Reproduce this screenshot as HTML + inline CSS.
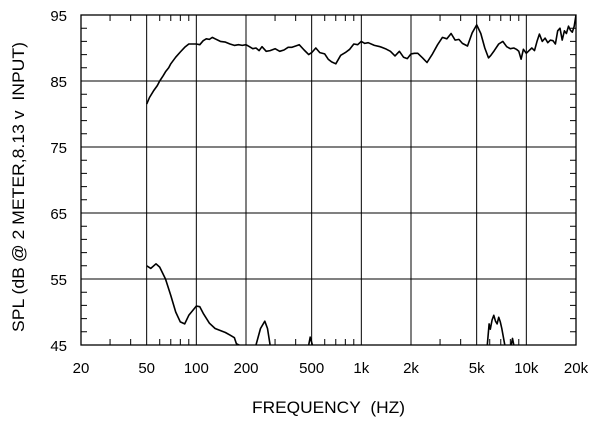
<!DOCTYPE html>
<html><head><meta charset="utf-8"><style>
body{margin:0;background:#fff}
svg text{font-family:"Liberation Sans",Arial,sans-serif;fill:#000}
</style></head><body>
<svg id="c" width="600" height="420"></svg>
<script>
const xTickVals=[20,50,100,200,500,1000,2000,5000,10000,20000];
const xTickLabels=["20","50","100","200","500","1k","2k","5k","10k","20k"];
const yTickVals=[45,55,65,75,85,95];
const spFreq=[50,52,55,58,60,63,65,68,70,75,80,85,90,95,100,105,110,115,120,125,130,140,150,160,170,180,190,200,210,220,230,240,250,265,280,300,320,340,360,380,400,420,450,480,500,530,560,600,630,660,700,750,800,850,900,950,1000,1050,1100,1200,1300,1400,1500,1600,1700,1800,1900,2000,2100,2200,2350,2500,2700,2900,3100,3300,3500,3700,3900,4100,4400,4700,5000,5300,5600,5900,6100,6400,6800,7200,7600,8000,8400,8700,9000,9300,9600,10000,10400,10800,11200,11600,12000,12500,13000,13500,14000,14500,15000,15500,16000,16500,17000,17500,18000,18500,19000,19500,20000];
const spDb=[81.5,82.5,83.5,84.3,85,85.8,86.4,87,87.6,88.6,89.4,90.1,90.6,90.6,90.6,90.5,91.1,91.4,91.3,91.6,91.4,91,90.9,90.6,90.4,90.5,90.4,90.5,90.2,89.9,90,89.6,90.2,89.5,89.6,89.9,89.5,89.7,90.1,90.1,90.3,90.5,89.7,89,89.3,90,89.3,89.1,88.3,87.9,87.6,88.9,89.3,89.8,90.6,90.5,91,90.7,90.8,90.4,90.2,89.9,89.5,88.8,89.5,88.6,88.4,89.1,89.2,89.2,88.5,87.8,89.1,90.5,91.6,91.4,92.2,91.2,91.3,90.7,90.3,92.3,93.5,92.2,90,88.5,88.9,89.6,90.6,91,90.2,89.9,90,89.8,89.5,88.3,89.8,89.2,89.6,90,89.6,91,92.1,91,91.5,90.8,91.2,91.1,90.6,92.6,93,91.2,92.6,92.2,93.3,92.7,92.4,93.3,95];
const distFreq=[50,53,57,60,65,70,75,80,85,90,100,105,110,120,130,150,160,170,175,185,null,230,245,260,270,280,null,480,490,505,null,5800,5950,6050,6200,6350,6500,6650,6800,6950,7100,7400,null,8100,8250,8400];
const distDb=[57,56.6,57.3,56.8,55,52.5,50,48.5,48.2,49.5,50.9,50.8,49.8,48.3,47.5,46.9,46.5,46.1,45.2,44.9,null,45,47.5,48.6,47.5,45,null,45,46.2,45,null,45,48.2,47.4,48.8,49.5,48.6,48.2,49.2,48.5,47.5,45,null,45,46,45];

const L=81,R=576,T=15,B=345;
const xs=f=>L+(Math.log10(f)-Math.log10(20))/3*(R-L);
const ys=v=>B-(v-45)/50*(B-T);
const NS="http://www.w3.org/2000/svg";
const svg=document.getElementById('c');
function mk(t,a){const e=document.createElementNS(NS,t);for(const k in a)e.setAttribute(k,a[k]);return e;}
const defs=mk('defs',{});const cp=mk('clipPath',{id:'clip'});cp.appendChild(mk('rect',{x:L,y:T,width:R-L,height:B-T}));defs.appendChild(cp);svg.appendChild(defs);

[50,100,200,500,1000,2000,5000,10000].forEach(f=>{
  const l=mk('line',{x1:xs(f),x2:xs(f),y1:T,y2:B,stroke:'#000','stroke-width':1});
  
  
  svg.appendChild(l);
});
[55,65,75,85].forEach(v=>{
  const l=mk('line',{x1:L,x2:R,y1:ys(v),y2:ys(v),stroke:'#000','stroke-width':1});
  
  
  svg.appendChild(l);
});
let d='';
const minor=[];
for(const dec of [10,100,1000,10000]){for(let m=2;m<=9;m++){const f=dec*m;if(f>20&&f<20000&&![50,100,200,500,1000,2000,5000,10000].includes(f))minor.push(f);}}
minor.forEach(f=>{const x=xs(f);d+=`M${x},${T}v6M${x},${B}v-6`;});
for(let v=47;v<95;v+=2){if((v-45)%10===0)continue;const y=ys(v);d+=`M${L},${y}h6M${R},${y}h-6`;}
const tk=mk('path',{d:d,stroke:'#000','stroke-width':1,fill:'none'});


svg.appendChild(tk);
const fr=mk('rect',{x:L,y:T,width:R-L,height:B-T,fill:'none',stroke:'#000','stroke-width':1.3});


svg.appendChild(fr);

function pathOf(F,V){let p='',pen=false;for(let i=0;i<F.length;i++){if(F[i]===null){pen=false;continue;}p+=(pen?'L':'M')+xs(F[i]).toFixed(1)+','+ys(V[i]).toFixed(1);pen=true;}return p;}
const s1=mk('path',{d:pathOf(spFreq,spDb),fill:'none',stroke:'#000','stroke-width':1.6,'stroke-linejoin':'round','clip-path':'url(#clip)'});


svg.appendChild(s1);
const s2=mk('path',{d:pathOf(distFreq,distDb),fill:'none',stroke:'#000','stroke-width':1.6,'stroke-linejoin':'round','clip-path':'url(#clip)'});


svg.appendChild(s2);

xTickVals.forEach((f,i)=>{
  const t=mk('text',{x:xs(f),y:373,'text-anchor':'middle','font-size':15});
  t.textContent=xTickLabels[i];
  
  
  svg.appendChild(t);
});
yTickVals.forEach(v=>{
  const t=mk('text',{x:67,y:ys(v)+6,'text-anchor':'end','font-size':15});
  t.textContent=String(v);
  
  
  svg.appendChild(t);
});
const xt=mk('text',{x:252,y:413,'font-size':16.5,textLength:153,lengthAdjust:'spacingAndGlyphs'});
xt.textContent='FREQUENCY\u00a0\u00a0(HZ)';


svg.appendChild(xt);
const yt=mk('text',{x:0,y:0,'font-size':16.5,textLength:290,lengthAdjust:'spacingAndGlyphs',transform:'translate(24,332) rotate(-90)'});
yt.textContent='SPL (dB @ 2 METER,8.13 v\u00a0\u00a0INPUT)';


svg.appendChild(yt);
</script>
</body></html>
